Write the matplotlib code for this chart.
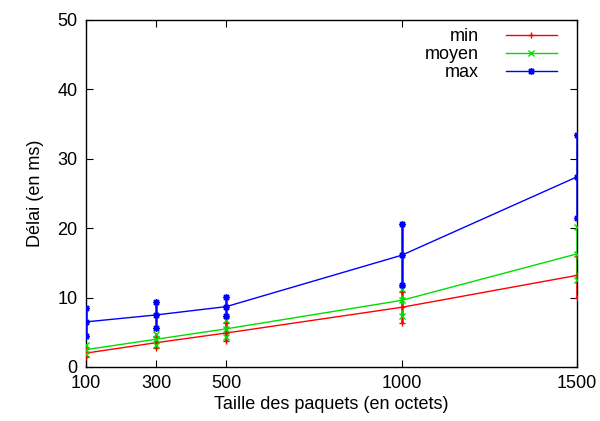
import matplotlib
matplotlib.use("Agg")
import matplotlib.pyplot as plt
import numpy as np

plt.rcParams['font.family'] = ['Liberation Sans', 'DejaVu Sans']

# packet sizes (bytes)
taille = [100, 300, 500, 1000, 1500]

# delay series: centre value, lower and upper ends of the bar (ms)
min_mid = [2.0, 3.5, 4.9, 8.6, 13.2]
min_lo = [1.5, 2.7, 3.7, 6.4, 9.9]
min_hi = [2.6, 4.3, 6.3, 10.8, 16.0]

moy_mid = [2.5, 4.0, 5.5, 9.6, 16.3]
moy_lo = [1.8, 3.2, 4.3, 7.3, 12.6]
moy_hi = [3.2, 4.7, 6.7, 11.2, 20.1]

max_mid = [6.5, 7.5, 8.7, 16.1, 27.4]
max_lo = [4.5, 5.6, 7.3, 11.8, 21.5]
max_hi = [8.5, 9.4, 10.1, 20.6, 33.4]

series = [
    ("min", min_mid, min_lo, min_hi, "#ff0000", "+"),
    ("moyen", moy_mid, moy_lo, moy_hi, "#00dd00", "x"),
    ("max", max_mid, max_lo, max_hi, "#0000ff", (8, 2, 0)),
]

fig = plt.figure(figsize=(6.0, 4.21), dpi=100)
ax = fig.add_axes([0.1433, 0.1283, 0.8184, 0.8242])

for name, mid, lo, hi, col, mk in series:
    ax.vlines(taille, lo, hi, colors=col, lw=1.8, zorder=3)
    ax.plot(taille, lo, ls="none", marker=mk, color=col, ms=5, mew=1.0, zorder=4)
    ax.plot(taille, hi, ls="none", marker=mk, color=col, ms=5, mew=1.0, zorder=4)
    ax.plot(taille, mid, color=col, lw=1.0, marker=mk, ms=5, mew=1.0,
            label=name, zorder=4)

ax.set_xlim(100, 1500)
ax.set_ylim(0, 50)
ax.set_xticks(taille)
ax.set_yticks([0, 10, 20, 30, 40, 50])
ax.tick_params(direction="in", top=True, right=True, length=5,
               labelsize=13, pad=6)
ax.set_xlabel("Taille des paquets (en octets)", fontsize=13, labelpad=3)
ax.set_ylabel("Délai (en ms)", fontsize=13, labelpad=10)
for s in ax.spines.values():
    s.set_linewidth(1.0)

leg = ax.legend(loc="upper right", frameon=False, fontsize=13,
                markerfirst=False, handlelength=2.8, labelspacing=0.05,
                borderaxespad=0.05, handletextpad=1.5,
                bbox_to_anchor=(0.975, 1.0))
for t in leg.get_texts():
    t.set_ha("right")
    t.set_position((0, 0))
leg._legend_box.align = "right"

fig.savefig("out.png", dpi=100)
